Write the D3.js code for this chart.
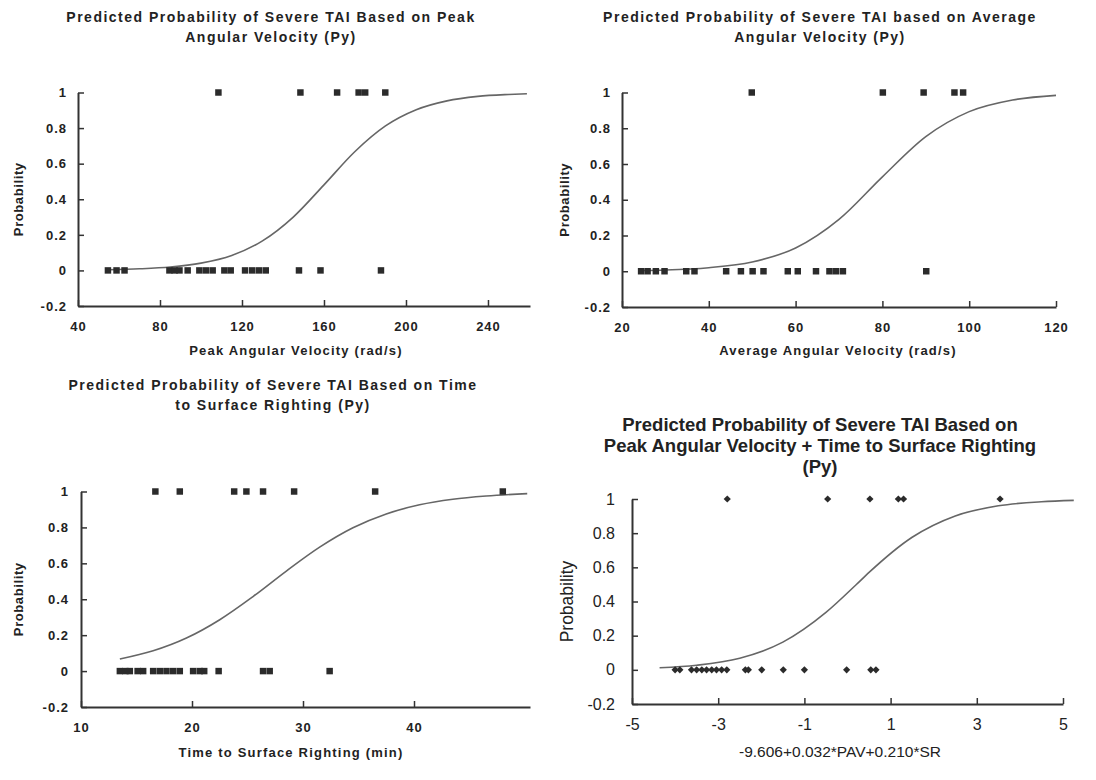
<!DOCTYPE html>
<html><head><meta charset="utf-8">
<script src="https://cdn.jsdelivr.net/npm/d3@7"></script>
<style>body{margin:0;background:#fff}svg{display:block}</style>
</head><body><svg id="c" width="1096" height="780"></svg>
<script>
// ---------- data ----------
const yTicks = [-0.2, 0, 0.2, 0.4, 0.6, 0.8, 1];

// Panel 1: Peak Angular Velocity
const pavTicks = [40, 80, 120, 160, 200, 240];
const pavSevere = [108.5, 148.5, 166.4, 176.9, 180.1, 189.9];
const pavNotSevere = [54.6, 58.8, 62.7, 84.6, 87.1, 89.5, 93.5, 99.2, 102.4, 105.7, 111.4, 114.5, 121.5, 125.0, 128.3, 131.6, 147.8, 158.3, 187.8];
const pavCurveX = [55, 70, 85, 100, 115, 130, 145, 160, 175, 190, 205, 220, 235, 250, 259];
const pavCurveP = [0.004, 0.009, 0.019, 0.041, 0.084, 0.166, 0.300, 0.481, 0.667, 0.812, 0.903, 0.953, 0.978, 0.989, 0.993];

// Panel 2: Average Angular Velocity
const aavTicks = [20, 40, 60, 80, 100, 120];
const aavSevere = [49.9, 80.1, 89.5, 96.6, 98.6];
const aavNotSevere = [24.4, 25.9, 27.8, 29.8, 34.8, 36.7, 44.0, 47.4, 50.1, 52.6, 58.2, 60.5, 64.7, 67.8, 69.3, 70.9, 90.1];
const aavCurveX = [24.4, 30, 40, 50, 60, 70, 80, 90, 100, 110, 120];
const aavCurveP = [0.004, 0.007, 0.020, 0.052, 0.130, 0.290, 0.528, 0.753, 0.893, 0.958, 0.984];

// Panel 3: Time to Surface Righting
const srTicks = [10, 20, 30, 40];
const srSevere = [16.7, 18.9, 23.8, 24.9, 26.4, 29.2, 36.5, 48.0];
const srNotSevere = [13.5, 14.0, 14.4, 15.1, 15.6, 16.5, 17.1, 17.7, 18.3, 18.9, 20.1, 20.7, 21.1, 22.4, 26.4, 27.0, 32.4];
const srCurveX = [13.5, 16.5, 19.5, 22.5, 25.5, 28.5, 31.5, 34.5, 37.5, 40.5, 43.5, 46.5, 50.2];
const srCurveP = [0.067, 0.113, 0.184, 0.286, 0.415, 0.557, 0.690, 0.798, 0.875, 0.926, 0.957, 0.975, 0.988];

// Panel 4: combined linear predictor
const lpTicks = [-5, -3, -1, 1, 3, 5];
const lpSevere = [-2.79, -0.46, 0.52, 1.18, 1.30, 3.54];
const lpNotSevere = [-4.00, -3.89, -3.62, -3.50, -3.38, -3.27, -3.15, -3.04, -2.92, -2.80, -2.37, -2.30, -1.99, -1.49, -1.00, -0.02, 0.54, 0.66];
const lpCurveX = [-4.36, -3.5, -2.5, -1.5, -0.5, 0.2, 0.5, 1.5, 2.5, 3.5, 4.5, 5.25];
const lpCurveP = [0.012, 0.027, 0.068, 0.162, 0.336, 0.498, 0.570, 0.776, 0.901, 0.960, 0.984, 0.992];

const titles = [
  ["Predicted Probability of Severe TAI Based on Peak", "Angular Velocity (Py)"],
  ["Predicted Probability of Severe TAI based on Average", "Angular Velocity (Py)"],
  ["Predicted Probability of Severe TAI Based on Time", "to Surface Righting (Py)"],
  ["Predicted Probability of Severe TAI Based on", "Peak Angular Velocity + Time to Surface Righting", "(Py)"]
];
const xLabels = ["Peak Angular Velocity (rad/s)", "Average Angular Velocity (rad/s)", "Time to Surface Righting (min)", "-9.606+0.032*PAV+0.210*SR"];
const yLabel = "Probability";

// ---------- layout / style ----------
const fam = "'Liberation Sans', Arial, sans-serif";
const boldStyle = {weight: "bold", size: 13, ls: 1, title: 14, tls: 1.5, titleWeight: "bold", xls: 1.2, xsize: 13, ylab: 13, yls: 0.6, padX: 15.5};
const plainStyle = {weight: "normal", size: 16, ls: 0, title: 18.5, tls: 0, titleWeight: "bold", xls: 0, xsize: 15.5, ylab: 17.5, yls: 0, padX: 14.4};

const panels = [
  {t: titles[0], tx: 271, ty: [17, 37], xd: [40, 260.5], xr: [78, 530], yr: [306, 92.5], ticks: pavTicks, xl: xLabels[0], xlx: 296, xly: 354.5, ylx: 18, padY: 11,
   yes: pavSevere, no: pavNotSevere, cx: pavCurveX, cp: pavCurveP, st: boldStyle, mark: "square"},
  {t: titles[1], tx: 820, ty: [17, 37], xd: [20, 120], xr: [622, 1056], yr: [307, 92.5], ticks: aavTicks, xl: xLabels[1], xlx: 838, xly: 354.5, ylx: 564, padY: 11,
   yes: aavSevere, no: aavNotSevere, cx: aavCurveX, cp: aavCurveP, st: boldStyle, mark: "square"},
  {t: titles[2], tx: 273, ty: [385, 405], xd: [10, 50.45], xr: [81, 530], yr: [707, 491.5], ticks: srTicks, xl: xLabels[2], xlx: 291, xly: 756.5, ylx: 18, padY: 12,
   yes: srSevere, no: srNotSevere, cx: srCurveX, cp: srCurveP, st: boldStyle, mark: "square"},
  {t: titles[3], tx: 820, ty: [425, 446, 467], xd: [-5, 5], xr: [632, 1063], yr: [704, 499], ticks: lpTicks, xl: xLabels[3], xlx: 840, xly: 757, ylx: 567, padY: 17,
   yes: lpSevere, no: lpNotSevere, cx: lpCurveX, cp: lpCurveP, st: plainStyle, mark: "diamond"}
];

const svg = d3.select("#c");
const fmt = d => (d < 0 ? "-" : "") + String(Math.abs(+d.toFixed(2)));
const ink = "#222", axisInk = "#333", curveInk = "#666";

panels.forEach(p => {
  const st = p.st;
  const g = svg.append("g");
  const x = d3.scaleLinear().domain(p.xd).range(p.xr);
  const y = d3.scaleLinear().domain([-0.2, 1]).range(p.yr);

  // title
  p.t.forEach((line, i) => {
    g.append("text").attr("x", p.tx).attr("y", p.ty[i]).attr("dy", "0.35em")
      .attr("text-anchor", "middle").attr("font-family", fam)
      .attr("font-weight", st.titleWeight).attr("font-size", st.title)
      .attr("letter-spacing", st.tls).attr("fill", ink).text(line);
  });

  // axes
  const xa = g.append("g").attr("transform", `translate(0,${p.yr[0]})`)
    .call(d3.axisBottom(x).tickValues(p.ticks).tickFormat(fmt).tickSizeInner(-6).tickSizeOuter(0).tickPadding(st.padX));
  const ya = g.append("g").attr("transform", `translate(${p.xr[0]},0)`)
    .call(d3.axisLeft(y).tickValues(yTicks).tickFormat(fmt).tickSizeInner(-6).tickSizeOuter(0).tickPadding(p.padY));
  [xa, ya].forEach(a => {
    a.select(".domain").attr("stroke", axisInk).attr("stroke-width", 2);
    a.selectAll(".tick line").attr("stroke", axisInk).attr("stroke-width", 1.5);
    a.selectAll("text").attr("font-family", fam).attr("font-weight", st.weight)
      .attr("font-size", st.size).attr("letter-spacing", st.ls).attr("fill", ink);
  });

  // axis titles
  g.append("text").attr("x", p.xlx).attr("y", p.xly).attr("text-anchor", "middle")
    .attr("font-family", fam).attr("font-weight", st.weight).attr("font-size", st.xsize)
    .attr("letter-spacing", st.xls).attr("fill", ink).text(p.xl);
  const ymid = (p.yr[0] + p.yr[1]) / 2;
  g.append("text").attr("transform", `translate(${p.ylx},${ymid}) rotate(-90)`).attr("dy", "0.35em")
    .attr("text-anchor", "middle").attr("font-family", fam).attr("font-weight", st.weight)
    .attr("font-size", st.ylab).attr("letter-spacing", st.yls).attr("fill", ink).text(yLabel);

  // fitted curve
  const pts = p.cx.map((v, i) => [v, p.cp[i]]);
  g.append("path").datum(pts)
    .attr("d", d3.line().x(d => x(d[0])).y(d => y(d[1])).curve(d3.curveMonotoneX))
    .attr("fill", "none").attr("stroke", curveInk).attr("stroke-width", 1.6);

  // observed points
  const obs = p.yes.map(v => [v, 1]).concat(p.no.map(v => [v, 0]));
  const sym = p.mark === "square" ? d3.symbol(d3.symbolSquare, 42) : d3.symbol(d3.symbolSquare, 26);
  g.selectAll("path.pt").data(obs).join("path").attr("class", "pt")
    .attr("d", sym)
    .attr("transform", d => `translate(${x(d[0])},${y(d[1])})` + (p.mark === "diamond" ? " rotate(45)" : ""))
    .attr("fill", "#2b2b2b");
});
</script>
</body></html>
